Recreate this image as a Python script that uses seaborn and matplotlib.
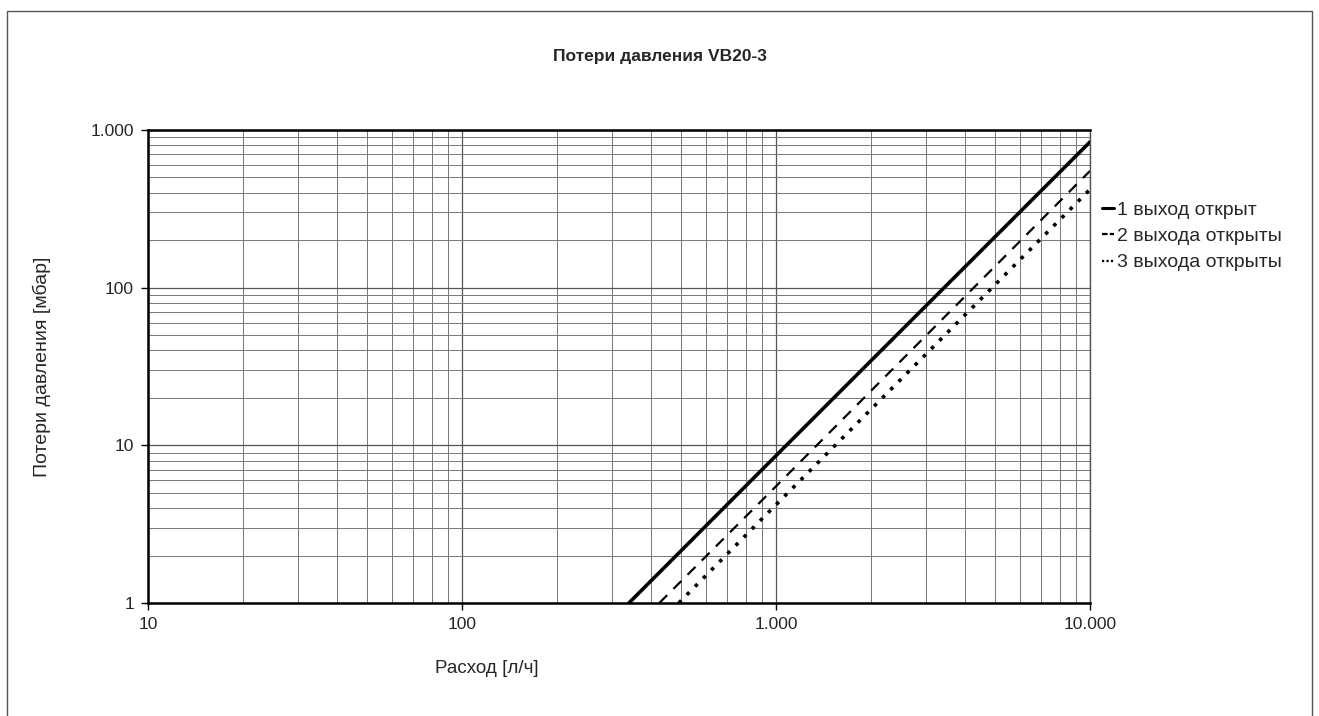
import pandas as pd
import seaborn as sns
import matplotlib.pyplot as plt
from matplotlib.lines import Line2D
from matplotlib.patches import Rectangle
from matplotlib.ticker import FixedLocator, FixedFormatter, LogLocator, NullFormatter

# Values (flow in l/h, pressure loss in mbar)
flow_1 = [340, 1000, 10000]
loss_1 = [1.0, 8.6, 840]
flow_2 = [425, 1000, 10000]
loss_2 = [1.0, 5.5, 550]
flow_3 = [490, 1000, 10000]
loss_3 = [1.0, 4.2, 420]
series_names = ['1 выход открыт', '2 выхода открыты', '3 выхода открыты']

x_ticks = [10, 100, 1000, 10000]
x_tick_labels = ['10', '100', '1.000', '10.000']
y_ticks = [1, 10, 100, 1000]
y_tick_labels = ['1', '10', '100', '1.000']

df = pd.concat([
    pd.DataFrame({'flow': flow_1, 'loss': loss_1, 'series': series_names[0]}),
    pd.DataFrame({'flow': flow_2, 'loss': loss_2, 'series': series_names[1]}),
    pd.DataFrame({'flow': flow_3, 'loss': loss_3, 'series': series_names[2]}),
])

sns.set_theme(style='white')
plt.rcParams['font.family'] = ['Liberation Sans', 'DejaVu Sans']

fig = plt.figure(figsize=(13.19, 7.16), dpi=100)
ax = fig.add_axes([148 / 1319, 1 - 603 / 716, (1090 - 148) / 1319, (603 - 130) / 716])

styles = {series_names[0]: dict(linestyle='-', linewidth=2.6),
          series_names[1]: dict(linestyle=(0, (5, 4)), linewidth=1.6),
          series_names[2]: dict(linestyle=(0, (1, 2.2)), linewidth=2.6)}
for name in series_names:
    sub = df[df['series'] == name]
    sns.lineplot(data=sub, x='flow', y='loss', ax=ax, color='black',
                 legend=False, clip_on=True, **styles[name])

ax.set_xscale('log')
ax.set_yscale('log')
ax.set_xlim(10, 10000)
ax.set_ylim(1, 1000)

ax.xaxis.set_major_locator(FixedLocator(x_ticks))
ax.xaxis.set_major_formatter(FixedFormatter(x_tick_labels))
ax.yaxis.set_major_locator(FixedLocator(y_ticks))
ax.yaxis.set_major_formatter(FixedFormatter(y_tick_labels))
ax.xaxis.set_minor_locator(LogLocator(base=10, subs=range(2, 10)))
ax.yaxis.set_minor_locator(LogLocator(base=10, subs=range(2, 10)))
ax.xaxis.set_minor_formatter(NullFormatter())
ax.yaxis.set_minor_formatter(NullFormatter())

ax.grid(True, which='major', color='#555555', linewidth=0.9)
ax.grid(True, which='minor', color='#777777', linewidth=0.7)
ax.tick_params(which='major', direction='out', length=5, width=1, color='black',
               labelsize=12.5, pad=5, left=True, bottom=True)
ax.tick_params(which='minor', length=0)
for side in ['left', 'bottom', 'top']:
    ax.spines[side].set_color('black')
    ax.spines[side].set_linewidth(1.8)
ax.spines['right'].set_color('#555555')
ax.spines['right'].set_linewidth(1.0)

ax.set_xlabel('Расход [л/ч]', fontsize=13.5)
ax.xaxis.set_label_coords(0.36, -0.12)
ax.set_ylabel('Потери давления [мбар]', fontsize=14)
ax.yaxis.set_label_coords(-0.103, 0.5)

fig.text(660 / 1319, 1 - 56 / 716, 'Потери давления VB20-3', ha='center', va='center',
         fontsize=12.5, fontweight='bold')

handles = [Line2D([], [], color='black', linestyle='-', linewidth=2.2),
           Line2D([], [], color='black', linestyle=(0, (2.5, 1)), linewidth=1.6),
           Line2D([], [], color='black', linestyle=(0, (1, 1)), linewidth=1.6)]
fig.legend(handles, series_names, loc='upper left', bbox_to_anchor=(1102 / 1319, 1 - 201 / 716),
           frameon=False, fontsize=14, handlelength=0.6, handletextpad=0.15,
           labelspacing=0.45, borderpad=0, borderaxespad=0)

fig.patches.append(Rectangle((7 / 1319, -0.01), (1312 - 7) / 1319, (716 - 11) / 716 + 0.01,
                             transform=fig.transFigure, fill=False, edgecolor='#555555',
                             linewidth=1.0))

fig.savefig('out.png', dpi=100)
